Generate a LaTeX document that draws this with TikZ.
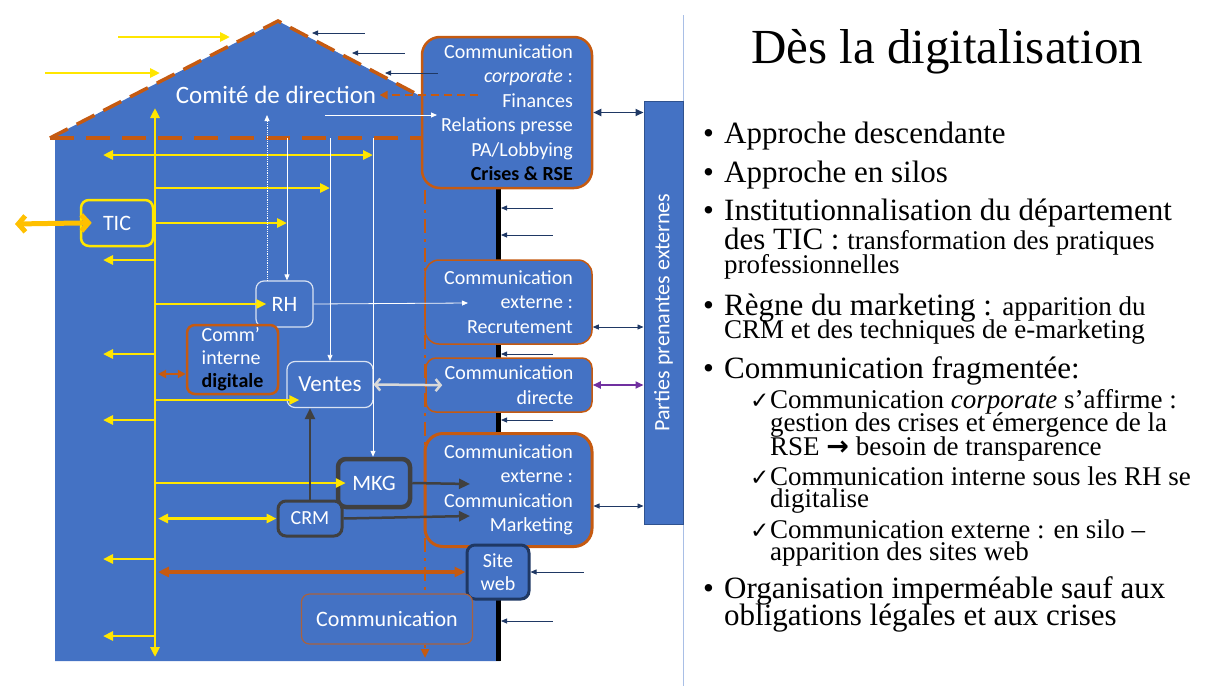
\documentclass[tikz,border=0pt]{standalone}
\usepackage{fontspec}
\setmainfont{Liberation Serif}
\newfontfamily\boxfont{Carlito}
\newfontfamily\symfont{DejaVu Sans}
\usetikzlibrary{arrows,arrows.meta}

\definecolor{houseblue}{HTML}{4472C4}
\definecolor{rust}{HTML}{C55A11}
\definecolor{sun}{HTML}{FFE600}
\definecolor{amber}{HTML}{FFC000}
\definecolor{navy}{HTML}{1F3864}
\definecolor{slate}{HTML}{404040}
\definecolor{mist}{HTML}{D9D9D9}
\definecolor{plum}{HTML}{7030A0}
\definecolor{rulecol}{HTML}{A9BFE6}
\definecolor{clay}{HTML}{A9623F}
\definecolor{edgeblue}{HTML}{2F528F}

\newcommand\itembul{\makebox[21pt][l]{•}}
\newcommand\chk{\makebox[20pt][l]{\symfont\fontsize{23}{23}\selectfont ✓}}
\newcommand\sm{\fontsize{27}{27}\selectfont}
\newcommand\tightlines{\lineskiplimit=-50pt\relax}

\tikzset{
 boxtext/.style={text=white,font=\boxfont\fontsize{20}{24.5}\selectfont},
 unit/.style={rounded corners=8pt,fill=houseblue,boxtext,inner sep=0pt},
 silo/.style={unit,rounded corners=14pt,draw=rust,align=right},
 yel/.style={draw=sun,line width=2.5pt,>={Triangle[length=10pt,width=9pt]}},
 wire/.style={draw=white,line width=0.8pt,>={Triangle[length=6pt,width=5pt]}},
 inflow/.style={draw=navy,line width=0.8pt,<-,>={Triangle[length=6pt,width=5pt]}},
 link/.style={line width=0.8pt,<->,>={Triangle[length=6pt,width=5pt]}},
 heavy/.style={line width=2.5pt,>={Triangle[length=11pt,width=10pt]}},
 barb/.style={{Straight Barb[length=7pt,width=16pt]}-{Straight Barb[length=7pt,width=16pt]}},
 % multi-line text: the base anchor sits on the last line
 point/.style={font={\fontsize{31}{#1}\selectfont\tightlines},align=left,anchor=base west,inner sep=0pt},
 subpoint/.style={font={\fontsize{27}{#1}\selectfont\tightlines},align=left,anchor=base west,inner sep=0pt},
}

\begin{document}
\begin{tikzpicture}[x=1pt,y=-1pt,>=latex']
 \useasboundingbox (0,0) rectangle (1211,686);

 % house
 \fill[houseblue] (50,138) -- (278,21) -- (500,138) -- (500,661) -- (55,661) -- (55,138) -- cycle;
 \draw[rust,line width=3.5pt,dash pattern=on 20pt off 10pt] (50,138) -- (278,21) -- (500,138);
 \draw[rust,line width=3.5pt,dash pattern=on 24pt off 12pt] (50,138) -- (500,138);
 \draw[line width=5pt] (498,188) -- (498,661);
 \draw[rulecol,line width=1pt] (683,15) -- (683,686);

 \coordinate (silotop) at (425,190);
 \coordinate (silobot) at (425,658);
 \draw[rust,line width=2.5pt,dash pattern=on 14pt off 6pt on 3pt off 6pt,->,>={Triangle[length=9pt,width=8pt]}] (silotop) -- (silobot);

 % services
 \node[silo,line width=2.5pt,minimum width=170pt,minimum height=151pt,rounded corners=18pt] (corp) at (507,112.5)
 {Communication\\\textit{corporate} :\\Finances\\Relations presse\\PA/Lobbying\\{\color{black}\bfseries Crises \& RSE}};
 \node[silo,line width=1.5pt,minimum width=167pt,minimum height=84pt] (recru) at (508.5,302)
 {Communication\\externe :\\Recrutement};
 \node[silo,line width=1.5pt,minimum width=166pt,minimum height=54pt,rounded corners=10pt] (direct) at (509,385)
 {Communication\\directe};
 \node[silo,line width=3pt,minimum width=167pt,minimum height=113pt,rounded corners=18pt] (mark) at (508.5,490)
 {Communication\\externe :\\Communication\\Marketing};
 \node[unit,draw=navy,line width=3pt,minimum width=62pt,minimum height=54pt,align=center,font=\boxfont\fontsize{20}{23}\selectfont] (site) at (498,572) {Site\\web};
 \node[unit,draw=clay,line width=1.2pt,minimum width=171pt,minimum height=50pt,font=\boxfont\fontsize{22}{22}\selectfont] (comm) at (387,619) {Communication};

 \node[unit,draw=sun,line width=2.5pt,minimum width=72pt,minimum height=46pt,font=\boxfont\fontsize{22}{22}\selectfont] (tic) at (117,223) {TIC};
 \node[unit,draw=white!80!houseblue,line width=1.2pt,minimum width=57pt,minimum height=46pt,font=\boxfont\fontsize{22}{22}\selectfont] (rh) at (284.5,304) {RH};
 \node[unit,draw=rust,line width=2.5pt,minimum width=91pt,minimum height=69pt,align=left,font=\boxfont\fontsize{20}{23}\selectfont] (intern) at (232.5,359.5)
 {Comm’\\interne\\{\color{black}\bfseries digitale}};
 \node[unit,draw=white!80!houseblue,line width=1.2pt,minimum width=86pt,minimum height=46pt,font=\boxfont\fontsize{23}{23}\selectfont] (ventes) at (330,384.5) {Ventes};
 \node[unit,draw=slate,line width=4.5pt,minimum width=72pt,minimum height=48pt,font=\boxfont\fontsize{22}{22}\selectfont] (mkg) at (374,483) {MKG};
 \node[unit,draw=slate,line width=3pt,minimum width=64pt,minimum height=35pt] (crm) at (310,518.5) {CRM};

 \node[fill=houseblue,draw=edgeblue,line width=1pt,rotate=90,minimum width=423pt,minimum height=39pt,inner sep=0pt,
 boxtext,font=\boxfont\fontsize{22}{22}\selectfont] (parties) at (663.5,312.5) {Parties prenantes externes};
 \node[boxtext,font=\boxfont\fontsize{25}{25}\selectfont] (comite) at (276,95) {Comité de direction};

 % free ends
 \coordinate (spine) at (155,108);
 \coordinate (foot) at (155,657);
 \coordinate (outer) at (103,300);
 \coordinate (ict) at (15,224);
 \coordinate (rhline) at (287,138);
 \coordinate (salesline) at (330,138);
 \coordinate (mkgline) at (373,138);
 \coordinate (up) at (267,115);
 \coordinate (pressfrom) at (325,115);
 \coordinate (press) at (437,115);
 \coordinate (hire) at (468,303);
 \coordinate (crisis) at (478,95);
 \coordinate (mkgtip) at (470,484);
 \coordinate (crmtip) at (470,516);

 % yellow flows
 \draw[yel,<->] (spine) -- (foot);
 \foreach \yy in {260,354,420,559,636}
 \draw[yel,->] (spine |- 0,\yy) -- (outer |- 0,\yy);
 \draw[yel,<->] (outer |- 0,155) -- (mkgline |- 0,155);
 \draw[yel,->] (spine |- 0,188) -- (salesline |- 0,188);
 \draw[yel,->] (tic.east) -- (rhline |- tic.east);
 \draw[yel,->,shorten >=-11pt] (spine |- rh.west) -- (rh.west);
 \draw[yel,->,shorten >=-13pt] (spine |- 0,400) -- (ventes.west |- 0,400);
 \draw[yel,->,shorten >=-10pt] (spine |- mkg.west) -- (mkg.west);
 \draw[yel,<->,shorten <=3pt] (spine |- crm.west) -- (crm.west);
 \draw[rust,heavy,<->,shorten <=3pt,>={Triangle[length=8pt,width=8pt]}] (spine |- 0,374) -- (intern.west |- 0,374);
 \draw[rust,heavy,line width=3.5pt,<->,shorten >=3pt] (site.west) -- (spine |- site.west);
 \draw[amber,line width=5pt,barb,shorten >=-12pt] (ict) -- (tic.west);

 % yellow arrows outside the roof
 \coordinate (sky1) at (118,37);
 \coordinate (sky2) at (45,73);
 \draw[yel,->] (sky1) -- ++(112,0);
 \draw[yel,->] (sky2) -- ++(115,0);

 % white lines
 \draw[wire,->] (rhline) -- (rhline |- rh.north);
 \draw[wire,->] (salesline) -- (salesline |- ventes.north);
 \draw[wire,->] (mkgline) -- (mkgline |- mkg.north);
 \draw[wire,densely dotted,->] (up |- rh.north) -- (up);
 \draw[wire,->] (pressfrom) -- (press);
 \draw[wire,->] (rh.east) -- (hire);
 \draw[mist,line width=2.5pt,{Straight Barb[length=5pt,width=12pt]}-{Straight Barb[length=5pt,width=12pt]},shorten >=-17pt] (ventes.east) -- (direct.west);

 % marketing
 \draw[slate,heavy,->] (crm.north) -- (crm.north |- ventes.south);
 \draw[slate,heavy,->] (mkg.east) -- (mkgtip);
 \draw[slate,heavy,->] (crm.east) -- (crmtip);

 % outside world
 \draw[navy,link,line width=1.8pt,>={Triangle[length=8pt,width=7pt]}] (corp.east) -- (corp.east -| parties.north);
 \draw[navy,link] ([yshift=-25pt]recru.east) -- ([yshift=-25pt]recru.east -| parties.north);
 \draw[plum,link,line width=1.8pt,>={Triangle[length=8pt,width=7pt]}] (direct.east) -- (direct.east -| parties.north);
 \draw[navy,link] ([yshift=-16pt]mark.east) -- ([yshift=-16pt]mark.east -| parties.north);
 \foreach \yy/\xx in {33/312,53/352,73/385}
 {\coordinate (tip) at (\xx,\yy); \draw[inflow] (tip) -- ++(53,0);}
 \foreach \yy in {208,235,354,420,621}
 {\coordinate (tip) at (501,\yy); \draw[inflow] (tip) -- ++(52,0);}
 \draw[inflow] (site.east) -- ++(53,0);
 \draw[rust,line width=2.5pt,dash pattern=on 8pt off 5pt,->,>={Triangle[length=8pt,width=8pt]}] (crisis) -- (comite.east);

 % text
 \node[anchor=base,font=\fontsize{49}{49}\selectfont] (title) at (947,63) {Dès la digitalisation};
 \node[point=31] (p1) at (703,143) {\itembul Approche descendante};
 \node[point=31] (p2) at (703,182) {\itembul Approche en silos};
 \node[point=24] (p3) at (703,273) {\itembul Institutionnalisation du département\\[5pt]
 \hspace*{21pt}des TIC : {\sm transformation des pratiques}\\
 \hspace*{21pt}{\sm professionnelles}};
 \node[point=23] (p4) at (703,338) {\itembul Règne du marketing : {\sm apparition du}\\
 \hspace*{21pt}{\sm CRM et des techniques de e-marketing}};
 \node[point=31] (p5) at (703,378) {\itembul Communication fragmentée:};
 \node[subpoint=23.5] (c1) at (750,455) {\chk Communication \textit{corporate} s’affirme :\\
 \hspace*{20pt}gestion des crises et émergence de la\\
 \hspace*{20pt}RSE {\symfont\bfseries →} besoin de transparence};
 \node[subpoint=22] (c2) at (750,507) {\chk Communication interne sous les RH se\\
 \hspace*{20pt}digitalise};
 \node[subpoint=22] (c3) at (750,560) {\chk Communication externe : en silo –\\
 \hspace*{20pt}apparition des sites web};
 \node[point=27] (p6) at (703,625) {\itembul Organisation imperméable sauf aux\\
 \hspace*{21pt}obligations légales et aux crises};
\end{tikzpicture}
\end{document}
